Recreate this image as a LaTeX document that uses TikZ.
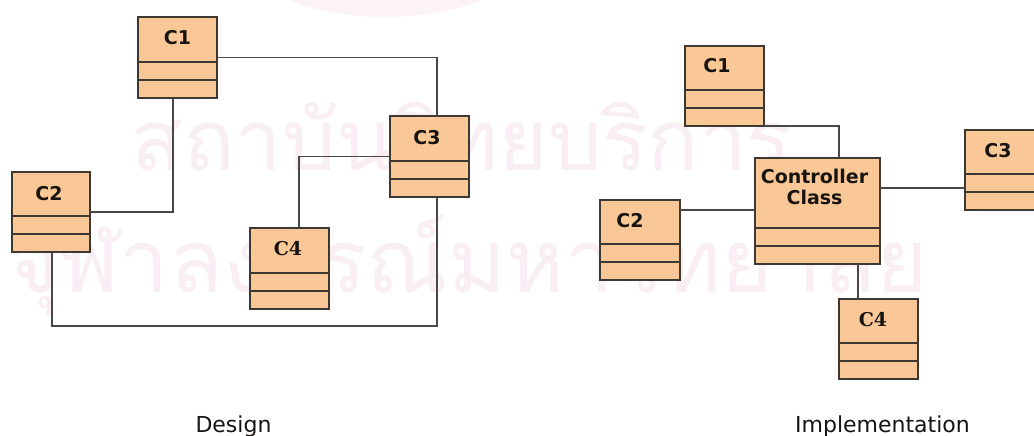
\documentclass[tikz,border=0pt]{standalone}
\usepackage{fontspec}
\setmainfont{DejaVu Sans}
\newfontfamily\thaifont[Script=Thai]{Loma}
\newfontfamily\clsserif{DejaVu Serif}
\definecolor{boxfill}{RGB}{250,200,150}
\definecolor{boxline}{RGB}{62,56,50}
\definecolor{connline}{RGB}{72,72,72}
\definecolor{wmpink}{RGB}{249,238,243}
\definecolor{logopink}{RGB}{252,243,246}
\definecolor{labtext}{RGB}{24,20,18}
\begin{document}
\begin{tikzpicture}[x=1pt,y=-1pt,
  classbox/.style={draw=boxline, fill=boxfill, line width=1.6pt,
    anchor=north west, inner sep=0pt, outer sep=0pt,
    minimum width=79pt, minimum height=#1,
    path picture={
      \draw[boxline, line width=1.4pt]
        ([yshift=18pt]path picture bounding box.south west) --
        ([yshift=18pt]path picture bounding box.south east)
        ([yshift=36pt]path picture bounding box.south west) --
        ([yshift=36pt]path picture bounding box.south east);}},
  classbox/.default=81pt,
  lab/.style={font=\fontsize{19}{20}\selectfont\bfseries, text=labtext,
    anchor=base, inner sep=0pt},
  labserif/.style={lab, font=\clsserif\fontsize{19}{20}\selectfont\bfseries},
  caption/.style={font=\fontsize{22}{24}\selectfont, text=labtext,
    anchor=base, inner sep=0pt},
  wm/.style={font=\thaifont\fontsize{#1}{#1}\selectfont, text=wmpink,
    anchor=base, inner sep=0pt},
  conn/.style={draw=connline, line width=1.4pt}
]
\useasboundingbox (0,0) rectangle (1034,436);
\clip (0,0) rectangle (1034,436);
\fill[white] (0,0) rectangle (1034,436);

% faint seal and lettering in the background
\fill[logopink] (385,-45) ellipse [x radius=140, y radius=62];
\node[wm=85] (wm1) at (462,170) {สถาบันวิทยบริการ};
\node[wm=88] (wm2) at (468,292) {จุฬาลงกรณ์มหาวิทยาลัย};

% ---------- Design ----------
\node[classbox=81pt] (d1) at (138,17) {};
\node[classbox=80pt, minimum width=78pt] (d2) at (12,172) {};
\node[classbox=81pt] (d3) at (390,116) {};
\node[classbox=81pt] (d4) at (250,228) {};

\node[lab] (d1t) at (177.5,45) {C1};
\node[lab] (d2t) at (49,200) {C2};
\node[lab] (d3t) at (427,144) {C3};
\node[labserif] (d4t) at (288,255) {C4};

\draw[conn] (d1.east) -| ([xshift=7.5pt]d3.north);
\draw[conn] ([xshift=-4.5pt]d1.south) |- (d2.east);
\draw[conn] (d3.west) -| ([xshift=9.5pt]d4.north);
\draw[conn] ([xshift=1pt]d2.south) -- ++(0,74) -| ([xshift=7.5pt]d3.south);

\node[caption] (capd) at (233.5,432) {Design};

% ---------- Implementation ----------
\node[classbox=80pt] (r1) at (685,46) {};
\node[classbox=80pt, minimum width=80pt] (r2) at (600,200) {};
\node[classbox=80pt] (r3) at (965,130) {};
\node[classbox=80pt] (r4) at (839,299) {};
\node[classbox=106pt, minimum width=125pt] (ctl) at (755,158) {};

\node[lab] (r1t) at (717,73) {C1};
\node[lab] (r2t) at (630,227) {C2};
\node[lab] (r3t) at (998,157) {C3};
\node[labserif] (r4t) at (873,326) {C4};
\node[lab, anchor=center, align=center, font=\fontsize{19}{20.5}\selectfont\bfseries]
  (ctlt) at (814.5,187) {Controller\\Class};

\draw[conn] (r1.south east) -| ([xshift=21.5pt]ctl.north);
\draw[conn] ([yshift=23pt]ctl.east) -- ([yshift=23pt]ctl.east -| r3.west);
\draw[conn] ([yshift=30pt]r2.east) -- ([yshift=30pt]r2.east -| ctl.west);
\draw[conn] ([xshift=40.5pt]ctl.south) -- ([xshift=40.5pt]ctl.south |- r4.north);

\node[caption] (capi) at (882.5,432) {Implementation};
\end{tikzpicture}
\end{document}
